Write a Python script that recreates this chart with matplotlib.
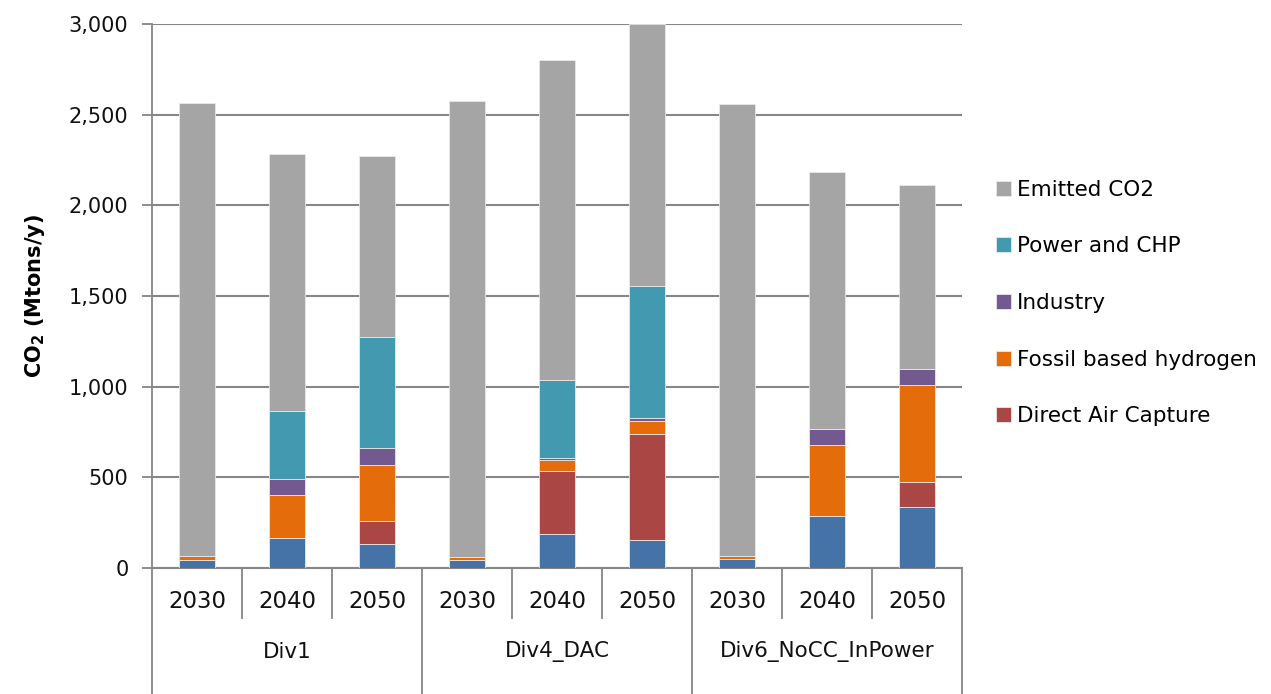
import matplotlib
matplotlib.use("Agg")
import matplotlib.pyplot as plt
import numpy as np

plt.rcParams['font.family'] = ['DejaVu Sans']

# Scenario groups and years on the category axis
groups = ["Div1", "Div4_DAC", "Div6_NoCC_InPower"]
years = ["2030", "2040", "2050"]

# CO2 flows per scenario/year (Mtons/y), stacked bottom to top
other_capture = [46, 167, 131, 46, 186, 156, 48, 289, 335]
direct_air_capture = [0, 0, 127, 0, 347, 583, 0, 0, 141]
fossil_hydrogen = [22, 234, 308, 16, 61, 72, 20, 391, 533]
industry = [0, 90, 98, 0, 13, 15, 0, 87, 88]
power_chp = [0, 375, 610, 0, 432, 727, 0, 0, 0]
emitted_co2 = [2497, 1417, 998, 2513, 1762, 1447, 2491, 1417, 1015]

series = [
    (other_capture, "#4572A7", None),
    (direct_air_capture, "#AA4643", "Direct Air Capture"),
    (fossil_hydrogen, "#E46C0A", "Fossil based hydrogen"),
    (industry, "#725990", "Industry"),
    (power_chp, "#4299B0", "Power and CHP"),
    (emitted_co2, "#A5A5A5", "Emitted CO2"),
]

fig = plt.figure(figsize=(12.71, 6.94), dpi=100)
ax = fig.add_axes([152 / 1271, 1 - 568 / 694, 810 / 1271, 544 / 694])

x = np.arange(len(groups) * len(years))
bottom = np.zeros(len(x))
handles = {}
for values, color, label in series:
    vals = np.array(values, dtype=float)
    bars = ax.bar(x, vals, width=0.4, bottom=bottom, color=color,
                  edgecolor="#E8E8E8", linewidth=0.6, zorder=3)
    if label:
        handles[label] = bars
    bottom += vals

ax.set_xlim(-0.5, len(x) - 0.5)
ax.set_ylim(0, 3000)
ax.set_yticks(np.arange(0, 3001, 500))
ax.yaxis.set_major_formatter(matplotlib.ticker.FuncFormatter(lambda v, p: f"{int(v):,}"))
ax.tick_params(axis="y", labelsize=15, length=7, width=1.3, color="#868686",
               pad=10, labelcolor="#111111")
ax.set_xticks([])
ax.grid(axis="y", color="#868686", linewidth=1.5, zorder=0)

for side in ("top", "right"):
    ax.spines[side].set_visible(False)
ax.spines["bottom"].set_color("#868686")
ax.spines["bottom"].set_linewidth(1.5)
ax.spines["left"].set_visible(False)

trans = ax.get_xaxis_transform()
line_kw = dict(color="#868686", linewidth=1.3, clip_on=False, transform=trans)
# left axis line running down through the category labels
ax.plot([-0.5, -0.5], [1.0, -0.232], **line_kw)

year_depth = -50 / 544
group_depth = -126 / 544
for i, xi in enumerate(x):
    ax.text(xi, -33 / 544, years[i % 3], transform=trans, ha="center",
            va="center", fontsize=16.5, color="#111111")
    edge = xi + 0.5
    if (i + 1) % 3 == 0:
        ax.plot([edge, edge], [0, group_depth], **line_kw)
    else:
        ax.plot([edge, edge], [0, year_depth], **line_kw)

for g, name in enumerate(groups):
    ax.text(g * 3 + 1, -84 / 544, name, transform=trans, ha="center",
            va="center", fontsize=15.5, color="#111111")

ax.set_ylabel(r"$\mathbf{CO_2}$ (Mtons/y)", fontsize=15, fontweight="bold",
              labelpad=16)

order = ["Emitted CO2", "Power and CHP", "Industry", "Fossil based hydrogen",
         "Direct Air Capture"]
ax.legend([handles[k] for k in order], order, loc="center left",
          bbox_to_anchor=(985 / 1271, 1 - 303 / 694), bbox_transform=fig.transFigure,
          frameon=False, fontsize=15.5, handlelength=0.7, handleheight=0.7,
          handletextpad=0.3, labelspacing=1.7, borderpad=0)

fig.savefig("out.png", dpi=100)
